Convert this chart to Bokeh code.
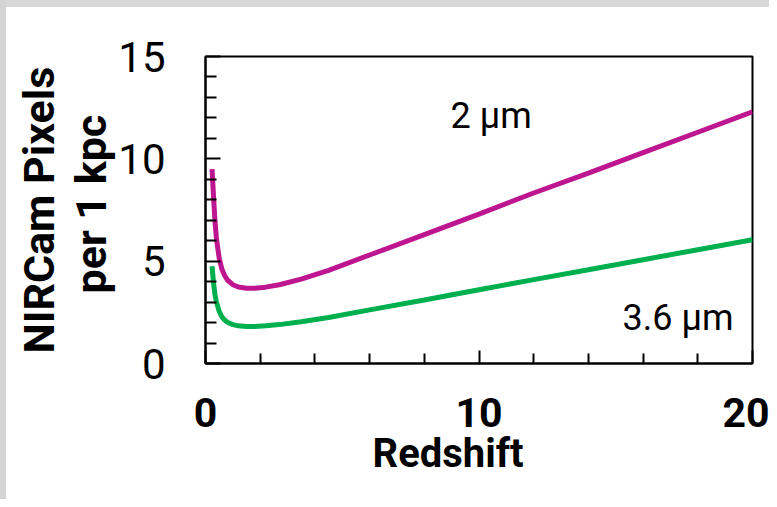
from bokeh.plotting import figure
from bokeh.models import Range1d, FixedTicker, Label, Title
from bokeh.embed import file_html
from bokeh.resources import INLINE

# Redshift samples
z_2um = [0.24, 0.3, 0.35, 0.4, 0.5, 0.6, 0.7, 0.8, 1.0, 1.2, 1.5, 1.8, 2.2, 2.7,
         3.5, 4.5, 6, 8, 10, 12, 14, 16, 18, 20]
pix_2um = [9.5, 8.0, 6.9, 6.1, 5.15, 4.6, 4.3, 4.08, 3.85, 3.74, 3.68, 3.68, 3.73, 3.85,
           4.12, 4.55, 5.3, 6.3, 7.3, 8.33, 9.3, 10.3, 11.3, 12.3]
z_36um = [0.24, 0.3, 0.35, 0.4, 0.5, 0.6, 0.7, 0.8, 1.0, 1.2, 1.5, 1.8, 2.2, 2.7,
          3.5, 4.5, 6, 8, 10, 12, 14, 16, 18, 20]
pix_36um = [4.75, 3.85, 3.35, 3.0, 2.55, 2.28, 2.12, 2.02, 1.9, 1.84, 1.81, 1.81, 1.84, 1.9,
            2.04, 2.25, 2.62, 3.1, 3.6, 4.1, 4.58, 5.07, 5.56, 6.05]

x_major = [0, 10, 20]
y_major = [0, 5, 10, 15]
x_minor = [2, 4, 6, 8, 12, 14, 16, 18]
y_minor = [1, 2, 3, 4, 6, 7, 8, 9, 11, 12, 13, 14]

x_title = "Redshift"
y_title_1 = "NIRCam Pixels"
y_title_2 = "per 1 kpc"
label_2um = "2 \u03bcm"
label_36um = "3.6 \u03bcm"

p = figure(width=769, height=499, output_backend="svg", toolbar_location=None,
           x_range=Range1d(0, 20), y_range=Range1d(0, 15),
           min_border_left=205, min_border_right=17, min_border_top=56, min_border_bottom=136)
p.background_fill_color = "white"
p.border_fill_color = None
p.styles = {"background": "linear-gradient(to right, #d4d4d4 0px, #d4d4d4 6px, transparent 6px), "
                          "linear-gradient(to bottom, #d8d8d8 0px, #d8d8d8 7px, #ffffff 7px)"}
p.outline_line_color = "black"
p.outline_line_width = 2
p.grid.visible = False

p.line(z_2um, pix_2um, line_color="#BE1591", line_width=5)
p.line(z_36um, pix_36um, line_color="#00B04F", line_width=5)

xa = p.xaxis[0]
xa.ticker = FixedTicker(ticks=x_major, minor_ticks=x_minor)
xa.axis_line_width = 2
xa.major_tick_in = 13
xa.major_tick_out = 0
xa.minor_tick_in = 10
xa.minor_tick_out = 0
xa.major_tick_line_width = 2
xa.minor_tick_line_width = 2
xa.major_label_text_font = "Roboto"
xa.major_label_text_font_style = "bold"
xa.major_label_text_font_size = "41px"
xa.major_label_text_color = "black"
xa.major_label_standoff = 34

ya = p.yaxis[0]
ya.ticker = FixedTicker(ticks=y_major, minor_ticks=y_minor)
ya.axis_line_width = 2
ya.major_tick_in = 15
ya.major_tick_out = 0
ya.minor_tick_in = 11
ya.minor_tick_out = 0
ya.major_tick_line_width = 2
ya.minor_tick_line_width = 2
ya.major_label_text_font = "Roboto"
ya.major_label_text_font_size = "42px"
ya.major_label_text_color = "black"
ya.major_label_standoff = 40

# Axis titles as side titles
p.add_layout(Title(text=x_title, text_font="Roboto", text_font_style="bold",
                   text_font_size="40px", text_color="black", align="left", offset=167,
                   standoff=0, vertical_align="top"), "below")
p.add_layout(Title(text=y_title_2, text_font="Roboto", text_font_style="bold",
                   text_font_size="43px", text_color="black", align="left", offset=70,
                   standoff=0, vertical_align="bottom"), "left")
p.add_layout(Title(text=y_title_1, text_font="Roboto", text_font_style="bold",
                   text_font_size="43px", text_color="black", align="left", offset=10,
                   standoff=0, vertical_align="bottom"), "left")

p.add_layout(Label(x=8.96, y=12.1, text=label_2um, text_font="Roboto",
                   text_font_size="36px", text_color="black", text_baseline="alphabetic"))
p.add_layout(Label(x=15.25, y=2.2, text=label_36um, text_font="Roboto",
                   text_font_size="36px", text_color="black", text_baseline="alphabetic"))

open("out.html", "w").write(file_html(p, INLINE))
